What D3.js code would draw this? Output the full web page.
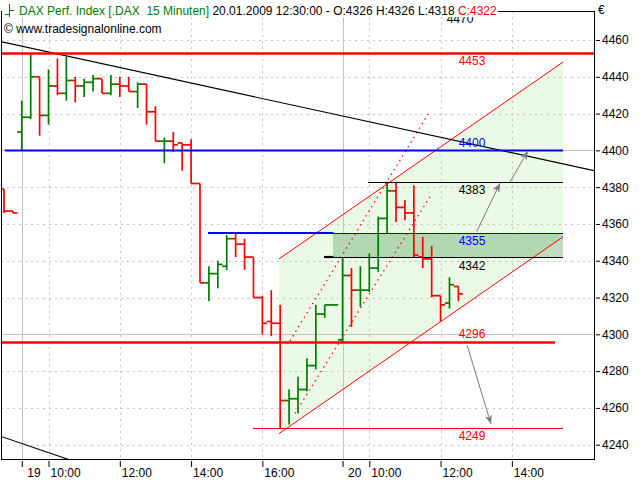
<!DOCTYPE html>
<html><head><meta charset="utf-8">
<script src="https://cdn.jsdelivr.net/npm/d3@7/dist/d3.min.js"></script>
<style>
body{margin:0;background:#fff;}
svg{display:block;font-family:"Liberation Sans",Arial,sans-serif;}
</style>
</head><body>
<svg id="c" width="640" height="480"></svg>
<script>
// ---------- DATA ----------
// 15-minute bars, slot 0 = 19.01.2009 09:15, slot 36 = 20.01.2009 09:15
const firstSlot = -2;
const opens  = [4379,4367,4410,4418,4440,4419,4435,4431,4438,4435,4437,4439,4431,4436,4435,4432,4436,4421,4405,4405,4404,4403,4382,4328,4333,4337,4352,4349,4342,4320,4307,4306,4264,4265,4270,4283,4311,4316,4297,4332,4324,4324,4336,4363,4378,4369,4366,4342,4341,4321,4317,4326];
const highs  = [4379,4367,4427,4453,4440,4444,4450,4451,4440,4439,4441,4439,4441,4440,4440,4437,4436,4424,4407,4410,4404,4406,4382,4337,4340,4354,4355,4352,4342,4321,4324,4316,4270,4277,4287,4316,4316,4316,4342,4336,4337,4344,4364,4383,4383,4373,4381,4353,4348,4321,4331,4326];
const lows   = [4366,4366,4400,4417,4408,4414,4430,4427,4426,4429,4432,4431,4430,4429,4432,4423,4414,4405,4393,4399,4389,4382,4328,4318,4325,4335,4342,4335,4320,4300,4299,4249,4251,4257,4269,4281,4309,4316,4296,4304,4315,4323,4334,4355,4361,4362,4342,4336,4320,4307,4314,4318];
const closes = [4367,4366,4418,4440,4419,4435,4431,4438,4435,4437,4439,4431,4436,4435,4432,4436,4421,4405,4405,4403,4403,4382,4328,4333,4338,4352,4349,4342,4320,4306,4306,4264,4265,4270,4283,4311,4316,4316,4332,4324,4324,4336,4363,4378,4369,4366,4343,4341,4321,4316,4327,4322];

const yTicks = [4240,4260,4280,4300,4320,4340,4360,4380,4400,4420,4440,4460];
const xTickSlots  = [0, 3, 11, 19, 27, 36, 39, 47, 55];
const xTickLabels = ["19","10:00","12:00","14:00","16:00","20","10:00","12:00","14:00"];
const dayBreakSlots = [0, 36];

const title = "DAX Perf. Index [.DAX  15 Minuten]";
const stamp = "20.01.2009 12:30:00";
const copyright = "\u00a9 www.tradesignalonline.com";

// horizontal levels (price, from slot, to slot)
const levelPrices = [4453, 4400, 4383, 4355, 4342, 4296, 4249];
const levelFrom   = [-3, -1.9, 38.86, 34.93, 34.93, -3, 25.95];
const levelTo     = [65, 60.74, 60.74, 60.74, 60.74, 59.84, 60.74];
const extraLabel  = 4470;
// short heavier ray starts
const rayPrices = [4355, 4342];
const rayFrom   = [20.9, 33.92];
const rayTo     = [34.93, 34.93];

// channel (slot, price) anchors
const channelSlots = [28.87, 60.74];
const channelUpper = [4341, 4448];
const channelLower = [4246, 4353];
// highlighted zone
const zoneSlots = [34.93, 60.74];
const zonePrices = [4342, 4355];
// trend lines
const trendSlots  = [[-2.45, 64.22], [-2.45, 5.41]];
const trendPrices = [[4459.2, 4389.0], [4244.7, 4231.7]];
// dotted lines
const dotSlots  = [[30.10, 45.81], [30.66, 45.81]];
const dotPrices = [[4296.4, 4421.4], [4257.0, 4374.8]];
// arrows
const arrowSlots  = [[51.05, 53.67], [54.79, 56.81], [49.97, 52.66]];
const arrowPrices = [[4355.8, 4382.1], [4382.8, 4399.7], [4294.2, 4251.3]];
const labelSlot = 50.53;

// ---------- DRAW ----------
const RED = "#ff0000", GREEN = "#007c00", BLUE = "#0000ff", GRID = "#c4c4c4";
const svg = d3.select("#c");
const P = {left:1, right:594, top:11, bottom:459};

const x = d3.scaleLinear().domain([0, 60]).range([21.8, 21.8 + 8.91*60]);
const y = d3.scaleLinear().domain([4240, 4460]).range([444.7, 40]);

svg.append("rect").attr("width",640).attr("height",480).attr("fill","#fff");
svg.append("defs").append("clipPath").attr("id","plot")
  .append("rect").attr("x",P.left+1).attr("y",P.top+1).attr("width",P.right-P.left-1).attr("height",P.bottom-P.top-1);
svg.select("defs").append("marker").attr("id","ah").attr("viewBox","0 0 10 10")
  .attr("refX",10).attr("refY",5).attr("markerWidth",9).attr("markerHeight",9)
  .attr("markerUnits","userSpaceOnUse").attr("orient","auto")
  .append("path").attr("d","M0,1 L10,5 L0,9 L3,5 Z").attr("fill","#7a7a7a");

const g = svg.append("g").attr("clip-path","url(#plot)");

// channel fill
const chan = [[channelSlots[0],channelUpper[0]],[channelSlots[1],channelUpper[1]],[channelSlots[1],channelLower[1]],[channelSlots[0],channelLower[0]]];
g.append("path").attr("d", d3.line().x(d=>x(d[0])).y(d=>y(d[1]))(chan)+"Z").attr("fill","#ebfae6");
// zone
g.append("rect").attr("x",x(zoneSlots[0])).attr("width",x(zoneSlots[1])-x(zoneSlots[0]))
  .attr("y",y(zonePrices[1])).attr("height",y(zonePrices[0])-y(zonePrices[1]))
  .attr("fill","#1a7f1a").attr("fill-opacity",0.27);

// grid
yTicks.forEach(v=>{
  const solid = v % 100 === 0;
  g.append("line").attr("x1",P.left).attr("x2",P.right).attr("y1",Math.round(y(v))+0.5).attr("y2",Math.round(y(v))+0.5)
   .attr("stroke",GRID).attr("stroke-width",1).attr("stroke-dasharray",solid?null:"2,4");
});
xTickSlots.forEach(s=>{
  const solid = dayBreakSlots.includes(s);
  g.append("line").attr("y1",P.top).attr("y2",P.bottom).attr("x1",Math.round(x(s))+0.5).attr("x2",Math.round(x(s))+0.5)
   .attr("stroke",GRID).attr("stroke-width",1).attr("stroke-dasharray",solid?null:"2,4");
});

// bars
const bars = opens.map((o,i)=>({slot:firstSlot+i,o,h:highs[i],l:lows[i],c:closes[i]}));
const bg = g.append("g").attr("stroke-width",1.7);
bars.forEach(b=>{
  const col = b.c >= b.o ? GREEN : RED;
  const cx = x(b.slot);
  const hy = y(b.h), ly = y(b.l);
  bg.append("line").attr("x1",cx).attr("x2",cx).attr("y1",hy===ly?hy-0.5:hy).attr("y2",hy===ly?ly+0.5:ly).attr("stroke",col);
  bg.append("line").attr("x1",cx-4.6).attr("x2",cx).attr("y1",y(b.o)).attr("y2",y(b.o)).attr("stroke",col);
  bg.append("line").attr("x1",cx).attr("x2",cx+4.6).attr("y1",y(b.c)).attr("y2",y(b.c)).attr("stroke",col);
});

// channel lines
g.append("line").attr("x1",x(channelSlots[0])).attr("y1",y(channelUpper[0])).attr("x2",x(channelSlots[1])).attr("y2",y(channelUpper[1])).attr("stroke",RED).attr("stroke-width",1);
g.append("line").attr("x1",x(channelSlots[0])).attr("y1",y(channelLower[0])).attr("x2",x(channelSlots[1])).attr("y2",y(channelLower[1])).attr("stroke",RED).attr("stroke-width",1);
// dotted
dotSlots.forEach((s,i)=>{
  g.append("line").attr("x1",x(s[0])).attr("y1",y(dotPrices[i][0])).attr("x2",x(s[1])).attr("y2",y(dotPrices[i][1]))
   .attr("stroke",RED).attr("stroke-width",1.3).attr("stroke-dasharray","1.4,4");
});
// trend lines
trendSlots.forEach((s,i)=>{
  g.append("line").attr("x1",x(s[0])).attr("y1",y(trendPrices[i][0])).attr("x2",x(s[1])).attr("y2",y(trendPrices[i][1]))
   .attr("stroke","#000").attr("stroke-width",1.1);
});

// levels
const lvlColor = [RED, BLUE, "#000", BLUE, "#000", RED, RED];
const lvlWidth = [2.6, 2.2, 1, 1, 1, 2.6, 1];
const lvlLabelColor = [RED, BLUE, "#000", BLUE, "#000", RED, RED];
const lvlLabelDy = [8, -7.5, 8, 8, 8.5, -7.5, 7.5];
levelPrices.forEach((p,i)=>{
  const yy = Math.round(y(p)) + (lvlWidth[i]%2? 0.5:0);
  g.append("line").attr("x1",x(levelFrom[i])).attr("x2",x(levelTo[i])).attr("y1",yy).attr("y2",yy)
   .attr("stroke",lvlColor[i]).attr("stroke-width",lvlWidth[i]);
});
const rayColor = [BLUE, "#000"];
rayPrices.forEach((p,i)=>{
  g.append("line").attr("x1",x(rayFrom[i])).attr("x2",x(rayTo[i])+0.5).attr("y1",Math.round(y(p))).attr("y2",Math.round(y(p)))
   .attr("stroke",rayColor[i]).attr("stroke-width",2.2);
});

// arrows
arrowSlots.forEach((s,i)=>{
  g.append("line").attr("x1",x(s[0])).attr("y1",y(arrowPrices[i][0])).attr("x2",x(s[1])).attr("y2",y(arrowPrices[i][1]))
   .attr("stroke","#7a7a7a").attr("stroke-width",1).attr("marker-end","url(#ah)");
});

// level labels
const lg = g.append("g").attr("font-size",12).attr("text-anchor","middle");
levelPrices.forEach((p,i)=>{
  lg.append("text").attr("x",x(labelSlot)).attr("y",y(p)+lvlLabelDy[i]).attr("dy","0.35em")
    .attr("fill",lvlLabelColor[i]).text(String(p));
});
lg.append("text").attr("x",x(labelSlot)-12).attr("y",19).attr("dy","0.35em").attr("fill","#000").text(String(extraLabel));

// copyright
svg.append("text").attr("x",4).attr("y",29).attr("dy","0.35em").attr("font-size",12).attr("fill","#000").text(copyright);

// frame
svg.append("line").attr("x1",P.left+0.5).attr("x2",P.left+0.5).attr("y1",P.top).attr("y2",P.bottom+0.5).attr("stroke","#000");
svg.append("line").attr("x1",P.right+0.5).attr("x2",P.right+0.5).attr("y1",P.top).attr("y2",P.bottom+0.5).attr("stroke","#000");
svg.append("line").attr("x1",P.left).attr("x2",P.right+1).attr("y1",P.bottom+0.5).attr("y2",P.bottom+0.5).attr("stroke","#000");

// header
const last = bars[bars.length-1];
svg.append("rect").attr("x",3).attr("y",3).attr("width",500).attr("height",14).attr("fill","#fff").attr("id","hbg");
const icon = svg.append("g").attr("stroke",GREEN).attr("stroke-width",1);
icon.append("line").attr("x1",9.5).attr("x2",9.5).attr("y1",4).attr("y2",17);
icon.append("line").attr("x1",5).attr("x2",9.5).attr("y1",14.5).attr("y2",14.5);
icon.append("line").attr("x1",9.5).attr("x2",14).attr("y1",10.5).attr("y2",10.5);
const ht = svg.append("text").attr("x",19).attr("y",11).attr("dy","0.35em").attr("font-size",12).style("white-space","pre");
ht.append("tspan").attr("fill",GREEN).text(title);
ht.append("tspan").attr("fill","#000").text(` ${stamp} - O:${last.o} H:${last.h} L:${last.l} `);
ht.append("tspan").attr("fill",RED).text(`C:${last.c}`);
const tEnd = 19 + ht.node().getComputedTextLength();
svg.select("#hbg").attr("width", tEnd - 3);
svg.append("line").attr("x1",tEnd+1).attr("x2",P.right+1).attr("y1",P.top+0.5).attr("y2",P.top+0.5).attr("stroke","#000");

// y axis (right)
const ya = svg.append("g").attr("transform",`translate(${P.right+2},0)`)
  .call(d3.axisRight(y).tickValues(yTicks).tickSize(4).tickPadding(2).tickFormat(d3.format("d")));
ya.select(".domain").remove();
ya.selectAll("text").attr("font-size",12).attr("font-family","Liberation Sans, Arial, sans-serif").attr("fill","#000");
ya.selectAll("line").attr("stroke","#000");
svg.append("text").attr("x",598).attr("y",10).attr("dy","0.35em").attr("font-size",12).text("\u20ac");

// x axis (bottom)
const xa = svg.append("g").attr("transform",`translate(0,${P.bottom+2})`)
  .call(d3.axisBottom(x).tickValues(xTickSlots).tickSize(6).tickPadding(1).tickFormat((d,i)=>xTickLabels[i]));
xa.select(".domain").remove();
xa.selectAll("line").attr("stroke","#000");
xa.selectAll("text").attr("font-size",12).attr("font-family","Liberation Sans, Arial, sans-serif").attr("fill","#000")
  .attr("text-anchor","start").attr("dx",(d)=>dayBreakSlots.includes(d)?"5":"1.5");
</script>
</body></html>
